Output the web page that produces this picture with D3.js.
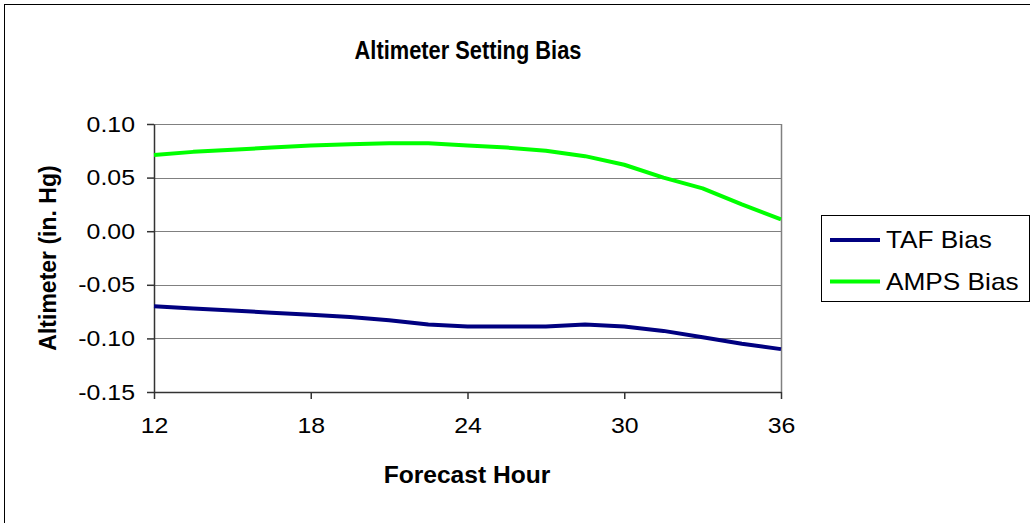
<!DOCTYPE html>
<html>
<head>
<meta charset="utf-8">
<script src="https://cdn.jsdelivr.net/npm/d3@7"></script>
<style>
  html, body { margin: 0; padding: 0; background: #fff; }
  svg { display: block; font-family: "Liberation Sans", Arial, sans-serif; }
</style>
</head>
<body>
<svg id="chart" width="1030" height="523"></svg>
<script>
const hours = [12, 13.5, 15, 16.5, 18, 19.5, 21, 22.5, 24, 25.5, 27, 28.5, 30, 31.5, 33, 34.5, 36];
const tafBias = [-0.070, -0.072, -0.074, -0.076, -0.078, -0.080, -0.083, -0.087, -0.089, -0.089, -0.089, -0.087, -0.089, -0.093, -0.099, -0.105, -0.110];
const ampsBias = [0.071, 0.074, 0.076, 0.078, 0.080, 0.081, 0.082, 0.082, 0.080, 0.078, 0.075, 0.070, 0.062, 0.050, 0.040, 0.025, 0.011];
const xTicks = [12, 18, 24, 30, 36];
const yTicks = [0.10, 0.05, 0.00, -0.05, -0.10, -0.15];
const seriesNames = ["TAF Bias", "AMPS Bias"];
const seriesColors = ["#000080", "#00FF00"];
const chartTitle = "Altimeter Setting Bias";
const xTitle = "Forecast Hour";
const yTitle = "Altimeter (in. Hg)";

const svg = d3.select("#chart");
const plot = { left: 154, right: 781, top: 124, bottom: 392 };

// outer border
svg.append("rect").attr("x", 4.5).attr("y", 4.5).attr("width", 1030).attr("height", 523)
  .attr("fill", "none").attr("stroke", "#000").attr("stroke-width", 1);

const x = d3.scaleLinear().domain([12, 36]).range([plot.left, plot.right]);
const y = d3.scaleLinear().domain([-0.15, 0.10]).range([plot.bottom, plot.top]);

// gridlines
svg.append("g").selectAll("line").data(yTicks.filter(v => v > -0.15)).join("line")
  .attr("x1", plot.left).attr("x2", plot.right)
  .attr("y1", d => Math.round(y(d)) + 0.5).attr("y2", d => Math.round(y(d)) + 0.5)
  .attr("stroke", "#808080").attr("stroke-width", 1);

// right border of plot area
svg.append("line").attr("x1", plot.right + 0.5).attr("x2", plot.right + 0.5)
  .attr("y1", plot.top).attr("y2", plot.bottom).attr("stroke", "#808080").attr("stroke-width", 1.5);

// y axis
const yAxis = d3.axisLeft(y).tickValues(yTicks).tickFormat(d => d.toFixed(2)).tickSize(7).tickSizeOuter(0);
const gy = svg.append("g").attr("transform", `translate(${plot.left},0)`).call(yAxis);
gy.select(".domain").attr("stroke", "#333").attr("stroke-width", 1.5);
gy.selectAll(".tick line").attr("stroke", "#333").attr("stroke-width", 1.5);
gy.selectAll(".tick text").attr("font-size", 22).attr("fill", "#000")
  .attr("font-family", "Liberation Sans, Arial, sans-serif")
  .attr("x", 0).attr("transform", "translate(-19,0) scale(1.13,1)");

// x axis
const xAxis = d3.axisBottom(x).tickValues(xTicks).tickSize(7).tickSizeOuter(0).tickPadding(18);
const gx = svg.append("g").attr("transform", `translate(0,${plot.bottom})`).call(xAxis);
gx.select(".domain").attr("stroke", "#333").attr("stroke-width", 1.5);
gx.selectAll(".tick line").attr("stroke", "#333").attr("stroke-width", 1.5);
gx.selectAll(".tick text").attr("font-size", 22).attr("fill", "#000")
  .attr("font-family", "Liberation Sans, Arial, sans-serif")
  .attr("transform", "scale(1.13,1)");

// lines
const line = d3.line().x(d => x(d[0])).y(d => y(d[1]));
const data = [tafBias, ampsBias];
data.forEach((vals, i) => {
  svg.append("path").datum(hours.map((h, j) => [h, vals[j]]))
    .attr("d", line).attr("fill", "none").attr("stroke", seriesColors[i])
    .attr("stroke-width", 4).attr("stroke-linejoin", "round");
});

// titles
svg.append("text").attr("transform", "translate(468,59) scale(0.84,1)").attr("text-anchor", "middle")
  .attr("font-size", 26).attr("font-weight", "bold").text(chartTitle);
svg.append("text").attr("transform", "translate(467,483) scale(1.07,1)").attr("text-anchor", "middle")
  .attr("font-size", 23).attr("font-weight", "bold").text(xTitle);
svg.append("text").attr("transform", `translate(56,258) rotate(-90)`).attr("text-anchor", "middle")
  .attr("font-size", 23).attr("font-weight", "bold").text(yTitle);

// legend
const lg = svg.append("g");
lg.append("rect").attr("x", 821.5).attr("y", 215.5).attr("width", 208).attr("height", 86)
  .attr("fill", "#fff").attr("stroke", "#000").attr("stroke-width", 1);
seriesNames.forEach((name, i) => {
  const ly = 240 + i * 41.5;
  lg.append("line").attr("x1", 830).attr("x2", 880).attr("y1", ly).attr("y2", ly)
    .attr("stroke", seriesColors[i]).attr("stroke-width", 4);
  lg.append("text").attr("transform", `translate(886,${ly + 8}) scale(1.14,1)`)
    .attr("font-size", 23).text(name);
});
</script>
</body>
</html>
